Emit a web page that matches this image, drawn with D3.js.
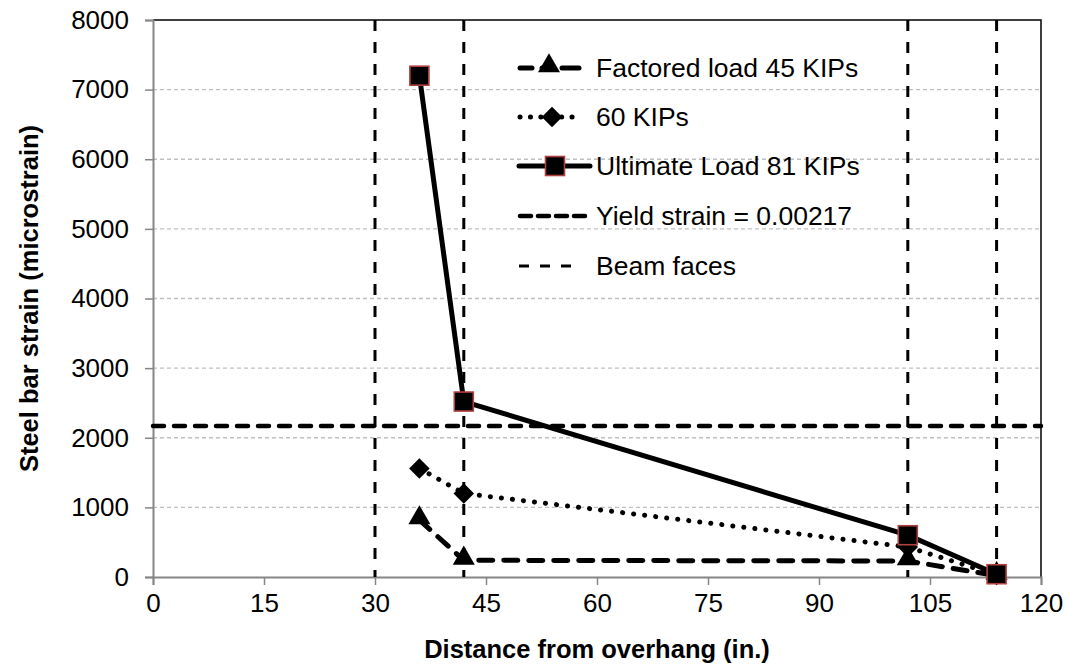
<!DOCTYPE html>
<html>
<head>
<meta charset="utf-8">
<script src="https://cdn.jsdelivr.net/npm/d3@7"></script>
<style>
  body { margin: 0; background: #fff; }
  svg { font-family: "Liberation Sans", Arial, sans-serif; }
</style>
</head>
<body>
<div id="chart"></div>
<script>
// data
const distance = [36, 42, 102, 114];
const factored45 = [820, 240, 230, 20];
const kips60 = [1560, 1200, 430, 30];
const ultimate81 = [7200, 2520, 600, 40];
const yieldStrain = 2170;
const yieldRange = [0, 120];
const beamFaces = [30, 42, 102, 114];
const xTicks = [0, 15, 30, 45, 60, 75, 90, 105, 120];
const yTicks = [0, 1000, 2000, 3000, 4000, 5000, 6000, 7000, 8000];
const legendNames = ['Factored load 45 KIPs', '60 KIPs', 'Ultimate Load 81 KIPs', 'Yield strain = 0.00217', 'Beam faces'];

const W = 1069, H = 670;
const margin = {left: 153, right: 28, top: 20, bottom: 93};

const svg = d3.select('#chart').append('svg')
  .attr('width', W).attr('height', H);

const x = d3.scaleLinear().domain([0, 120]).range([margin.left, W - margin.right]);
const y = d3.scaleLinear().domain([0, 8000]).range([H - margin.bottom, margin.top]);

// horizontal gridlines
svg.append('g').selectAll('line')
  .data(yTicks.slice(1, -1))
  .enter().append('line')
  .attr('x1', x(0)).attr('x2', x(120))
  .attr('y1', d => y(d)).attr('y2', d => y(d))
  .attr('stroke', '#c0c0c0').attr('stroke-width', 1.3)
  .attr('stroke-dasharray', '4,3');

// plot border (top + right)
svg.append('path')
  .attr('d', `M${x(0)},${y(8000)}H${x(120)}V${y(0)}`)
  .attr('fill', 'none').attr('stroke', '#000').attr('stroke-width', 1.5);

// axes
const xAxis = svg.append('g')
  .attr('transform', `translate(0,${y(0)})`)
  .call(d3.axisBottom(x).tickValues(xTicks).tickSize(8).tickPadding(9));
const yAxis = svg.append('g')
  .attr('transform', `translate(${x(0)},0)`)
  .call(d3.axisLeft(y).tickValues(yTicks).tickFormat(d3.format('d')).tickSize(8).tickPadding(16));
[xAxis, yAxis].forEach(a => {
  a.select('.domain').attr('stroke', '#868686').attr('stroke-width', 2);
  a.selectAll('.tick line').attr('stroke', '#868686').attr('stroke-width', 1.5);
  a.selectAll('text').attr('font-size', 26).attr('fill', '#000')
    .attr('font-family', '"Liberation Sans", Arial, sans-serif');
});

// beam faces
svg.append('g').selectAll('line')
  .data(beamFaces)
  .enter().append('line')
  .attr('x1', d => x(d)).attr('x2', d => x(d))
  .attr('y1', y(8000)).attr('y2', y(0))
  .attr('stroke', '#000').attr('stroke-width', 3)
  .attr('stroke-dasharray', '11,11');

// yield strain
svg.append('line')
  .attr('x1', x(yieldRange[0])).attr('x2', x(yieldRange[1]))
  .attr('y1', y(yieldStrain)).attr('y2', y(yieldStrain))
  .attr('stroke', '#000').attr('stroke-width', 4.5)
  .attr('stroke-linecap', 'round')
  .attr('stroke-dasharray', '11,10');

const line = d3.line().x((d, i) => x(distance[i])).y(d => y(d));

svg.append('path').datum(factored45)
  .attr('d', line).attr('fill', 'none')
  .attr('stroke', '#000').attr('stroke-width', 5)
  .attr('stroke-linecap', 'round')
  .attr('stroke-dasharray', '14,11');

svg.append('path').datum(kips60)
  .attr('d', line).attr('fill', 'none')
  .attr('stroke', '#000').attr('stroke-width', 5)
  .attr('stroke-linecap', 'round')
  .attr('stroke-dasharray', '0.1,11');

svg.append('path').datum(ultimate81)
  .attr('d', line).attr('fill', 'none')
  .attr('stroke', '#000').attr('stroke-width', 5);

// markers
const tri = d3.symbol().type(d3.symbolTriangle).size(210);
const dia = d3.symbol().type(d3.symbolSquare).size(210);

svg.append('g').selectAll('path')
  .data(factored45)
  .enter().append('path')
  .attr('d', tri)
  .attr('transform', (d, i) => `translate(${x(distance[i])},${y(d) - 2})`)
  .attr('fill', '#000');

svg.append('g').selectAll('path')
  .data(kips60)
  .enter().append('path')
  .attr('d', dia)
  .attr('transform', (d, i) => `translate(${x(distance[i])},${y(d)}) rotate(45)`)
  .attr('fill', '#000');

svg.append('g').selectAll('rect')
  .data(ultimate81)
  .enter().append('rect')
  .attr('x', (d, i) => x(distance[i]) - 9.5)
  .attr('y', d => y(d) - 9.5)
  .attr('width', 19).attr('height', 19)
  .attr('fill', '#000').attr('stroke', '#b0413e').attr('stroke-width', 1.6);

// legend
const lg = svg.append('g');
const lx0 = 518, ly = [68, 117, 166, 216, 266];
lg.selectAll('text')
  .data(legendNames)
  .enter().append('text')
  .attr('x', 596).attr('y', (d, i) => ly[i])
  .attr('dy', '0.35em')
  .attr('font-size', 26.5)
  .text(d => d);

// legend 1: dash-triangle-dash
[[2, 14], [24, 36], [44, 61]].forEach(s => {
  lg.append('line').attr('x1', lx0 + s[0]).attr('x2', lx0 + s[1]).attr('y1', ly[0]).attr('y2', ly[0])
    .attr('stroke', '#000').attr('stroke-width', 5).attr('stroke-linecap', 'round');
});
lg.append('path').attr('d', tri)
  .attr('transform', `translate(${lx0 + 31},${ly[0] - 2})`).attr('fill', '#000');

// legend 2: dots-diamond-dots
lg.append('line').attr('x1', lx0 + 2).attr('x2', lx0 + 64).attr('y1', ly[1]).attr('y2', ly[1])
  .attr('stroke', '#000').attr('stroke-width', 5).attr('stroke-linecap', 'round')
  .attr('stroke-dasharray', '0.1,10.3');
lg.append('path').attr('d', dia)
  .attr('transform', `translate(${lx0 + 34},${ly[1]}) rotate(45)`).attr('fill', '#000');

// legend 3: solid-square-solid
lg.append('line').attr('x1', lx0 + 1).attr('x2', lx0 + 72).attr('y1', ly[2]).attr('y2', ly[2])
  .attr('stroke', '#000').attr('stroke-width', 5).attr('stroke-linecap', 'round');
lg.append('rect').attr('x', lx0 + 27.5).attr('y', ly[2] - 9.5).attr('width', 19).attr('height', 19)
  .attr('fill', '#000').attr('stroke', '#b0413e').attr('stroke-width', 1.6);

// legend 4: yield dashed
lg.append('line').attr('x1', lx0 + 2).attr('x2', lx0 + 70).attr('y1', ly[3]).attr('y2', ly[3])
  .attr('stroke', '#000').attr('stroke-width', 4.5).attr('stroke-linecap', 'round')
  .attr('stroke-dasharray', '11,7');

// legend 5: beam faces
lg.append('line').attr('x1', lx0 + 1).attr('x2', lx0 + 64).attr('y1', ly[4]).attr('y2', ly[4])
  .attr('stroke', '#000').attr('stroke-width', 3)
  .attr('stroke-dasharray', '10,11');

// axis titles
svg.append('text')
  .attr('x', (x(0) + x(120)) / 2).attr('y', 658)
  .attr('text-anchor', 'middle')
  .attr('font-size', 25.5).attr('font-weight', 'bold')
  .text('Distance from overhang (in.)');

svg.append('text')
  .attr('transform', `translate(38,${(y(0) + y(8000)) / 2}) rotate(-90)`)
  .attr('text-anchor', 'middle')
  .attr('font-size', 25.5).attr('font-weight', 'bold')
  .text('Steel bar strain (microstrain)');
</script>
</body>
</html>
